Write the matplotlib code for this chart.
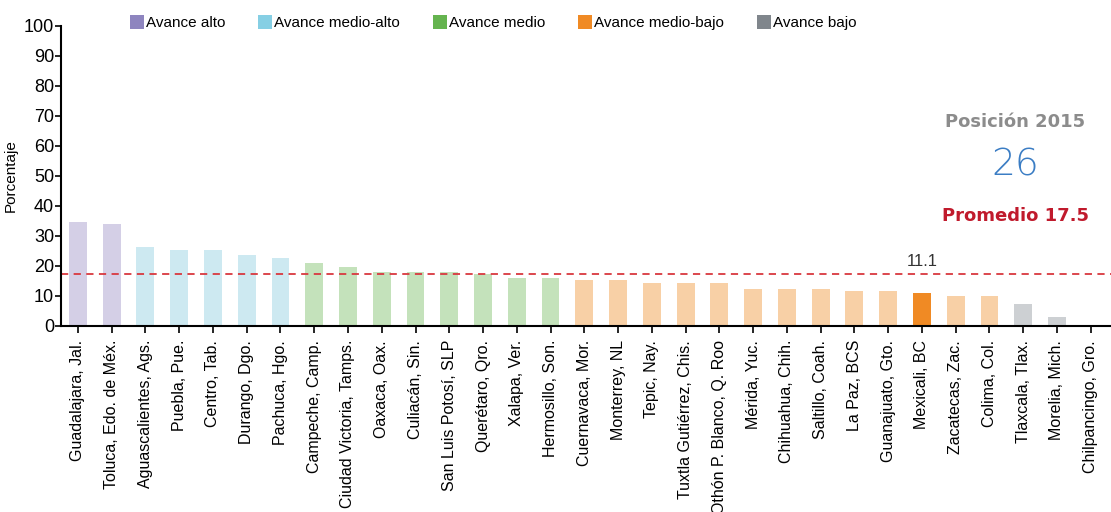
import matplotlib.pyplot as plt
from matplotlib.patches import Patch

ciudades = ["Guadalajara, Jal.", "Toluca, Edo. de Méx.", "Aguascalientes, Ags.",
            "Puebla, Pue.", "Centro, Tab.", "Durango, Dgo.", "Pachuca, Hgo.",
            "Campeche, Camp.", "Ciudad Victoria, Tamps.", "Oaxaca, Oax.",
            "Culiacán, Sin.", "San Luis Potosí, SLP", "Querétaro, Qro.",
            "Xalapa, Ver.", "Hermosillo, Son.", "Cuernavaca, Mor.",
            "Monterrey, NL", "Tepic, Nay.", "Tuxtla Gutiérrez, Chis.",
            "Othón P. Blanco, Q. Roo", "Mérida, Yuc.", "Chihuahua, Chih.",
            "Saltillo, Coah.", "La Paz, BCS", "Guanajuato, Gto.", "Mexicali, BC",
            "Zacatecas, Zac.", "Colima, Col.", "Tlaxcala, Tlax.", "Morelia, Mich.",
            "Chilpancingo, Gro."]
valores = [34.7, 34.0, 26.3, 25.3, 25.3, 23.7, 22.7, 21.0, 19.7, 18.0,
           18.0, 18.0, 17.3, 16.0, 16.0, 15.3, 15.3, 14.3, 14.3, 14.3,
           12.3, 12.3, 12.3, 11.7, 11.7, 11.1, 10.0, 10.0, 7.3, 3.0, 0.0]
# grupo de avance de cada ciudad
grupos = ["alto"] * 2 + ["medio-alto"] * 5 + ["medio"] * 8 + ["medio-bajo"] * 13 + ["bajo"] * 3
destacada = "Mexicali, BC"
promedio = 17.5
posicion = 26

niveles = ["alto", "medio-alto", "medio", "medio-bajo", "bajo"]
col_claro = {"alto": "#d4cfe6", "medio-alto": "#cde9f1", "medio": "#c4e2bb",
             "medio-bajo": "#f8d0a6", "bajo": "#cdd0d3"}
col_fuerte = {"alto": "#8e85bf", "medio-alto": "#86cfe4", "medio": "#65b44f",
              "medio-bajo": "#f08a24", "bajo": "#80868c"}

plt.rcParams['font.family'] = ['Liberation Sans', 'DejaVu Sans']

fig = plt.figure(figsize=(11.11, 5.12), dpi=100)
ax = fig.add_axes([61 / 1111, 186 / 512, 1050 / 1111, 300 / 512])

colores = [col_fuerte[g] if c == destacada else col_claro[g] for c, g in zip(ciudades, grupos)]
x = list(range(len(ciudades)))
ax.bar(x, valores, width=0.53, color=colores)

ax.axhline(promedio, color='#d9383f', linestyle=(0, (4, 3)), linewidth=1.3)
i = ciudades.index(destacada)
ax.annotate("{:.1f}".format(valores[i]), xy=(i, promedio), xytext=(0, 3),
            textcoords='offset points', ha='center', va='bottom', fontsize=12, color='#333333')

ax.set_xlim(-0.5, len(ciudades) - 0.4)
ax.set_ylim(0, 100)
ax.set_yticks(range(0, 101, 10))
ax.set_xticks(x)
ax.set_xticklabels(ciudades, rotation=90, fontsize=11.5)
ax.tick_params(axis='y', labelsize=13, length=4, width=1.2, pad=1)
ax.tick_params(axis='x', length=5, width=1.2, pad=5)
for s in ['top', 'right']:
    ax.spines[s].set_visible(False)
for s in ['left', 'bottom']:
    ax.spines[s].set_linewidth(1.5)
ax.set_ylabel('Porcentaje', fontsize=11)
ax.yaxis.set_label_coords(-43 / 1050, 0.5)

handles = [Patch(facecolor=col_fuerte[n], label="Avance " + n) for n in niveles]
fig.legend(handles=handles, loc='upper left', bbox_to_anchor=(124 / 1111, 1 - 9 / 512),
           ncol=5, frameon=False, fontsize=11, handlelength=0.9, handleheight=1.0,
           handletextpad=0.15, columnspacing=2.15, borderaxespad=0)

fig.text(1015 / 1111, 1 - 122 / 512, "Posición 2015", ha='center', va='center',
         fontsize=13, fontweight='bold', color='#8c8c8c', family='DejaVu Sans')
fig.text(1015 / 1111, 1 - 165 / 512, str(posicion), ha='center', va='center',
         fontsize=27, fontweight='light', color='#3b7dc4', family='DejaVu Sans')
fig.text(1015 / 1111, 1 - 216 / 512, "Promedio {}".format(promedio), ha='center', va='center',
         fontsize=13, fontweight='bold', color='#c01a2c', family='DejaVu Sans')

plt.savefig('out.png', dpi=100)
